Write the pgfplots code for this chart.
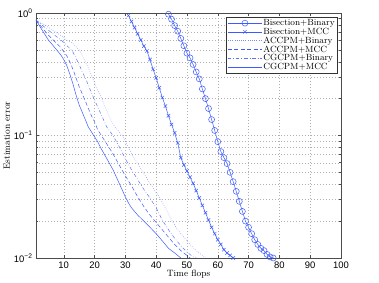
\documentclass[border=0pt]{standalone}
\usepackage{fontspec}
\usepackage{pgfplots}
\pgfplotsset{compat=1.18}
\newfontfamily\helv{Liberation Sans}
\definecolor{mblue}{HTML}{3C5AFF}
\definecolor{gridgray}{HTML}{B0B0B0}

\begin{document}
\begin{tikzpicture}
\path[use as bounding box] (-36bp,-25bp) rectangle (343bp,258bp);
\begin{axis}[
  scale only axis,
  width=305bp, height=245bp,
  at={(0,0)}, anchor=south west,
  ymode=log,
  xmin=1, xmax=100,
  ymin=0.01, ymax=1,
  xtick={10,20,...,100},
  ytick={0.01,0.1,1},
  yticklabels={{10\textsuperscript{−2}},{10\textsuperscript{−1}},{10\textsuperscript{0}}},
  tick label style={font=\helv\fontsize{9.5}{10}\selectfont},
  /pgf/number format/assume math mode=true,
  xlabel={Time flops},
  ylabel={Estimation error},
  label style={font=\fontsize{9.2}{10}\selectfont},
  xlabel style={yshift=5pt},
  ylabel style={yshift=-3pt},
  tick align=inside,
  major tick length=3bp,
  minor tick length=1.8bp,
  grid=both,
  major grid style={gridgray, line width=0.3pt, dash pattern=on 0.5pt off 2.5pt},
  minor grid style={gridgray, line width=0.3pt, dash pattern=on 0.5pt off 2.5pt},
  axis line style={black!70, line width=0.6pt},
  every tick/.style={black!70, line width=0.4pt},
  legend style={at={(0.987,0.984)}, anchor=north east, draw=black!80, fill=white,
    font=\fontsize{9}{9}\selectfont, inner sep=1pt, row sep=-1.4pt,
    nodes={inner sep=1.2pt}},
  legend cell align=left,
  legend image code/.code={\draw[mark repeat=2,mark phase=2,#1] plot coordinates {(0cm,0cm) (0.6cm,0cm) (1.2cm,0cm)};},
]
% Bisection+Binary
\addplot[mblue, line width=0.5pt, mark=o, mark size=3pt, mark options={solid}] coordinates {
(44,0.977) (45,0.89) (46,0.79) (47,0.71) (48,0.62) (49,0.54) (50,0.47) (51,0.43)
(52,0.38) (53,0.33) (54,0.29) (55,0.24) (56,0.20) (57,0.166) (58,0.135) (59,0.110)
(60,0.089) (61,0.074) (62,0.066) (63,0.059) (64,0.050) (65,0.042) (66,0.035) (67,0.029)
(68,0.024) (69,0.020) (70,0.0178) (71,0.0158) (72,0.0141) (73,0.0129) (74,0.0120)
(75,0.0115) (76,0.0107) (77,0.0102) (78,0.0100)};
% Bisection+MCC
\addplot[mblue, line width=0.5pt, mark=x, mark size=2.4pt, mark options={solid}] coordinates {
(31,0.955) (32,0.851) (33,0.759) (34,0.676) (35,0.603) (36,0.537) (37,0.490) (38,0.417)
(39,0.347) (40,0.295) (41,0.245) (42,0.204) (43,0.174) (44,0.145) (45,0.123) (46,0.105)
(47,0.087) (48,0.066) (49,0.0575) (50,0.0513) (51,0.0457) (52,0.0407) (53,0.0355)
(54,0.0309) (55,0.0269) (56,0.0234) (57,0.0204) (58,0.0178) (59,0.0158) (60,0.0141)
(61,0.0129) (62,0.0117) (63,0.0110) (64,0.0105) (65,0.0100)};
% ACCPM+Binary
\addplot[mblue!70, line width=0.5pt, dash pattern=on 0.6pt off 1.6pt] coordinates {
(1,0.877) (4,0.794) (7,0.708) (10,0.631) (13,0.562) (15,0.501) (16,0.447) (17,0.398)
(18,0.355) (19,0.309) (20,0.269) (21,0.234) (22,0.209) (23,0.182) (24,0.158) (26,0.123)
(28,0.107) (29,0.100) (31,0.0794) (33,0.0646) (35,0.0537) (37,0.0447) (39,0.0372)
(41,0.0316) (43,0.0257) (45,0.0204) (47,0.0170) (49,0.0148) (51,0.0129) (53,0.0115)
(55,0.0105) (56,0.0100)};
% ACCPM+MCC
\addplot[mblue, line width=0.5pt, dash pattern=on 4pt off 2.5pt] coordinates {
(1,0.877) (3,0.759) (5,0.661) (7,0.589) (9,0.525) (11,0.447) (12,0.398) (13,0.347)
(14,0.295) (15,0.251) (16,0.219) (17,0.191) (18,0.166) (19,0.145) (20,0.129) (21,0.112)
(22,0.102) (24,0.0851) (26,0.0708) (28,0.0575) (30,0.0468) (32,0.0389) (34,0.0316)
(36,0.0263) (38,0.0224) (40,0.0195) (42,0.0170) (44,0.0148) (46,0.0129) (48,0.0115)
(50,0.0105) (51,0.0100)};
% CGCPM+Binary
\addplot[mblue!85, line width=0.5pt, dash pattern=on 3.5pt off 2pt on 0.6pt off 2pt] coordinates {
(1,0.877) (4,0.759) (7,0.661) (10,0.575) (12,0.513) (13,0.479) (14,0.427) (15,0.380)
(16,0.331) (17,0.295) (18,0.257) (19,0.224) (20,0.195) (22,0.151) (24,0.117) (26,0.100)
(28,0.0813) (30,0.0646) (32,0.0525) (34,0.0437) (36,0.0363) (38,0.0309) (40,0.0257)
(42,0.0204) (44,0.0170) (46,0.0145) (48,0.0126) (50,0.0112) (52,0.0102) (53,0.0100)};
% CGCPM+MCC
\addplot[mblue, line width=0.5pt] coordinates {
(1,0.877) (3,0.724) (5,0.603) (7,0.525) (9,0.457) (10,0.417) (11,0.372) (12,0.316)
(13,0.263) (14,0.214) (15,0.178) (16,0.155) (17,0.135) (18,0.117) (19,0.107) (20,0.0977)
(21,0.0891) (22,0.0794) (24,0.0646) (26,0.0525) (28,0.0407) (30,0.0316) (31,0.0282)
(32,0.0257) (34,0.0224) (36,0.0200) (38,0.0178) (40,0.0158) (42,0.0138) (44,0.0120)
(46,0.0110) (48,0.0100)};
\legend{Bisection+Binary, Bisection+MCC, ACCPM+Binary, ACCPM+MCC, CGCPM+Binary, CGCPM+MCC}
\end{axis}
\end{tikzpicture}
\end{document}
